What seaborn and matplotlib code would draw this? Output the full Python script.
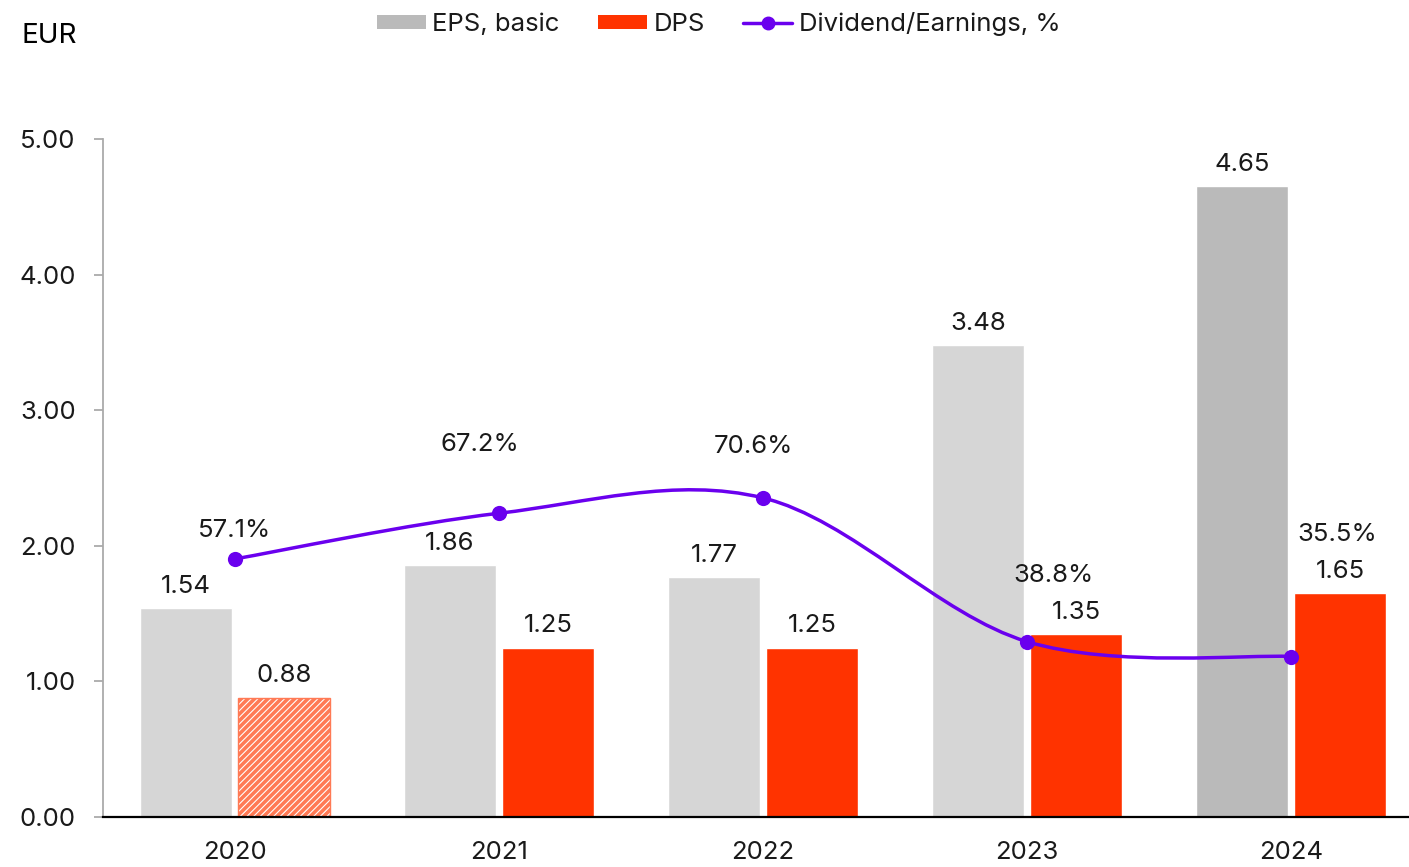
import numpy as np
import pandas as pd
import matplotlib.pyplot as plt
import seaborn as sns
from matplotlib.path import Path
from matplotlib.patches import PathPatch, Patch
from matplotlib.lines import Line2D

years = ["2020", "2021", "2022", "2023", "2024"]
eps = [1.54, 1.86, 1.77, 3.48, 4.65]
dps = [0.88, 1.25, 1.25, 1.35, 1.65]
payout = [57.1, 67.2, 70.6, 38.8, 35.5]
payout_labels = ["57.1%", "67.2%", "70.6%", "38.8%", "35.5%"]

# label placement for the % labels (points, relative to marker)
pct_offsets = [(0, 16), (-14, 45), (-7, 32), (19, 43), (33, 83)]

grey = "#d6d6d6"
grey_dark = "#bababa"
red = "#ff3300"
purple = "#6a00ee"
txt = "#1a1a1a"

sns.set_style("white")
plt.rcParams["font.family"] = ["Inter", "DejaVu Sans"]
plt.rcParams["hatch.linewidth"] = 2.6

df = pd.DataFrame({
    "year": years * 2,
    "series": ["EPS, basic"] * 5 + ["DPS"] * 5,
    "value": eps + dps,
})

fig = plt.figure(figsize=(14.09, 8.67), dpi=100)
ax = fig.add_axes([103 / 1409, 50 / 867, 1 - 103 / 1409, 678 / 867])

sns.barplot(data=df, x="year", y="value", hue="series", order=years,
            hue_order=["EPS, basic", "DPS"],
            palette={"EPS, basic": grey, "DPS": red},
            width=0.742, gap=0.06, legend=False, ax=ax, saturation=1)

eps_bars = ax.containers[0]
dps_bars = ax.containers[1]
eps_bars[4].set_facecolor(grey_dark)
# 2020 dividend is hatched
b = dps_bars[0]
b.set_facecolor("white")
b.set_edgecolor("#ff7a55")
b.set_hatch("/////")
b.set_linewidth(1)

fs = 18.5
for bars, vals in [(eps_bars, eps), (dps_bars, dps)]:
    for bar, v in zip(bars, vals):
        ax.annotate(f"{v:.2f}", (bar.get_x() + bar.get_width() / 2, bar.get_height()),
                    xytext=(0, 11), textcoords="offset points", ha="center",
                    va="baseline", fontsize=fs, color=txt)

ax.set_ylim(0, 5)
ax.set_xlim(-0.5, 4.447)
ax.set_yticks([0, 1, 2, 3, 4, 5])
ax.set_yticklabels([f"{t:.2f}" for t in range(6)])
ax.set_xlabel("")
ax.set_ylabel("")
ax.tick_params(axis="y", length=6.5, width=1.3, color="#aaaaaa", pad=13,
               labelsize=fs, labelcolor=txt, left=True)
ax.tick_params(axis="x", length=0, pad=17, labelsize=fs, labelcolor=txt)
for s in ["top", "right"]:
    ax.spines[s].set_visible(False)
ax.spines["left"].set_color("#aaaaaa")
ax.spines["left"].set_linewidth(1.3)
ax.spines["bottom"].set_color("black")
ax.spines["bottom"].set_linewidth(1.6)

# payout ratio on hidden secondary axis, smoothed line
ax2 = ax.twinx()
ax2.set_ylim(0, 150)
ax2.axis("off")
x = np.arange(len(years), dtype=float)
y = np.array(payout)
pts = np.column_stack([x, y])
verts = [pts[0]]
codes = [Path.MOVETO]
n = len(pts)
for i in range(n - 1):
    p_prev = pts[i - 1] if i > 0 else pts[i]
    p_next2 = pts[i + 2] if i + 2 < n else pts[i + 1]
    c1 = pts[i] + (pts[i + 1] - p_prev) / 6
    c2 = pts[i + 1] - (p_next2 - pts[i]) / 6
    verts += [c1, c2, pts[i + 1]]
    codes += [Path.CURVE4] * 3
ax2.add_patch(PathPatch(Path(verts, codes), facecolor="none",
                        edgecolor=purple, linewidth=2.5, capstyle="round"))
sns.scatterplot(x=x, y=y, color=purple, s=120, edgecolor=purple,
                linewidth=0, ax=ax2, zorder=5)
ax2.set_xlim(-0.5, 4.447)
ax2.set_ylim(0, 150)

for xi, yi, lab, off in zip(x, y, payout_labels, pct_offsets):
    ax2.annotate(lab, (xi, yi), xytext=off, textcoords="offset points",
                 ha="center", va="baseline", fontsize=fs, color=txt)

handles = [
    Patch(facecolor=grey_dark, edgecolor="none", label="EPS, basic"),
    Patch(facecolor=red, edgecolor="none", label="DPS"),
    Line2D([], [], color=purple, linewidth=2.5, marker="o", markersize=9,
           label="Dividend/Earnings, %"),
]
fig.legend(handles=handles, loc="center", bbox_to_anchor=(0.51, 1 - 24 / 867),
           ncol=3, frameon=False, fontsize=fs, handlelength=1.9,
           handleheight=0.5, handletextpad=0.25, columnspacing=1.5,
           labelcolor=txt)

fig.text(22 / 1409, 1 - 36 / 867, "EUR", fontsize=20, color="black", va="center")

fig.savefig("out.png", dpi=100)
